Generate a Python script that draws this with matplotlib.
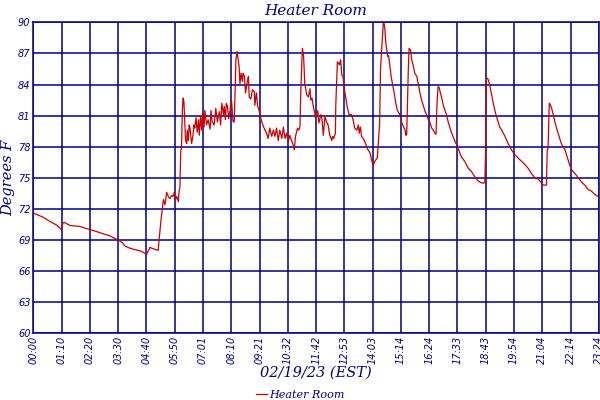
import matplotlib
matplotlib.use("Agg")
import matplotlib.pyplot as plt
import numpy as np

# minutes since midnight, degrees F
minutes = [0, 24, 41, 59, 70, 73, 77, 91, 116, 124, 141, 158, 173, 190, 205, 211, 222, 228, 240,
           269, 281, 290, 294, 310, 313, 317, 320, 323, 327, 331, 335, 339, 344, 347, 350, 353, 356, 360, 362, 364,
           366, 368, 370, 372, 374, 376, 378, 381, 382, 385, 387, 389, 393, 396, 399, 401, 404, 407, 410, 412,
           415, 418, 420, 424, 426, 430, 434, 439, 441, 444, 449, 453, 457, 462, 465, 468, 472, 474, 477, 479,
           482, 485, 488, 492, 496, 499, 503, 506, 511, 513, 516, 519, 521, 524, 527, 530, 534, 536, 540, 544,
           549, 550, 554, 557, 560, 565, 568, 573, 579, 583, 587, 592, 596, 600, 604, 608, 612, 617, 621, 625,
           629, 633, 637, 641, 645, 648, 651, 656, 659, 662, 664, 668, 671, 674, 679, 683, 687, 689, 692, 695,
           699, 701, 706, 709, 714, 717, 720, 724, 728, 732, 736, 741, 743, 746, 750, 751, 755, 760, 763, 766,
           769, 771, 776, 779, 784, 790, 794, 798, 803, 807, 809, 812, 815, 819, 823, 828, 831, 836, 840, 844,
           848, 854, 856, 860, 862, 865, 869, 871, 873, 875, 877, 880, 882, 885, 888, 892, 896, 900, 904, 910,
           914, 923, 925, 927, 928, 931, 933, 937, 939, 943, 947, 952, 956, 960, 964, 968, 972, 976, 980, 985,
           989, 993, 997, 1000, 1001, 1003, 1005, 1008, 1010, 1014, 1018, 1022, 1026, 1030, 1034, 1038, 1042, 1047, 1051, 1055,
           1059, 1063, 1071, 1080, 1088, 1096, 1104, 1113, 1121, 1123, 1124, 1125, 1128, 1130, 1134, 1138, 1142, 1146, 1150, 1154,
           1158, 1163, 1167, 1171, 1179, 1187, 1196, 1204, 1212, 1220, 1229, 1237, 1245, 1253, 1262, 1266, 1274, 1276, 1278, 1281,
           1283, 1287, 1291, 1295, 1299, 1303, 1307, 1311, 1315, 1320, 1324, 1328, 1332, 1336, 1345, 1353, 1361, 1369, 1377, 1386,
           1394, 1402, 1404]
temps = [71.6, 71.2, 70.8, 70.4, 70.0, 70.6, 70.7, 70.4, 70.3, 70.2, 70.0, 69.8, 69.6, 69.4, 69.1, 69.0, 68.7, 68.4, 68.2,
         67.9, 67.6, 68.3, 68.2, 68.0, 69.3, 70.9, 71.9, 72.9, 72.4, 73.6, 73.2, 73.0, 73.3, 73.2, 73.6, 72.9, 73.2, 72.7, 73.7, 74.1,
         77.5, 78.0, 81.5, 82.7, 82.3, 80.4, 78.6, 78.3, 79.6, 78.6, 80.1, 79.8, 78.3, 79.0, 80.1, 79.8, 80.8, 79.4, 80.6, 79.1,
         80.9, 79.6, 81.3, 79.9, 81.5, 80.1, 80.6, 79.7, 81.5, 80.4, 80.1, 81.7, 80.4, 81.4, 80.1, 82.2, 81.1, 81.9, 80.6, 82.2,
         81.9, 80.7, 81.4, 82.5, 80.4, 80.4, 86.4, 87.2, 85.7, 84.1, 85.1, 84.3, 85.1, 84.8, 83.2, 84.0, 84.8, 82.8, 82.6, 83.5,
         83.3, 82.0, 83.2, 81.9, 81.6, 80.7, 80.3, 79.8, 79.3, 78.8, 79.8, 79.0, 79.6, 79.0, 79.8, 78.6, 79.6, 78.8, 79.9, 78.8,
         79.3, 78.5, 79.1, 78.6, 78.2, 77.7, 79.0, 79.8, 79.6, 79.9, 83.2, 87.5, 86.8, 84.1, 83.0, 82.8, 83.6, 82.5, 82.7, 81.9,
         81.2, 80.7, 81.5, 80.3, 81.1, 80.6, 79.1, 80.9, 80.4, 80.1, 79.1, 78.6, 79.0, 78.8, 79.3, 82.0, 86.2, 85.9, 86.4, 84.9,
         84.8, 83.8, 82.7, 81.9, 81.1, 81.1, 80.6, 79.8, 79.6, 80.1, 79.3, 79.9, 79.0, 78.8, 78.5, 78.0, 77.7, 77.4, 76.7, 76.2,
         76.6, 76.9, 78.0, 80.4, 85.4, 87.5, 89.9, 89.9, 89.3, 88.1, 87.5, 86.7, 86.8, 85.9, 84.9, 84.0, 83.2, 82.2, 81.5, 81.1,
         80.4, 79.6, 79.1, 79.2, 80.6, 85.4, 87.5, 87.3, 86.5, 85.9, 85.1, 84.8, 84.0, 83.2, 82.5, 82.0, 81.5, 81.1, 80.7, 80.3,
         79.8, 79.6, 79.3, 79.2, 80.7, 82.7, 83.8, 83.7, 83.3, 82.7, 82.0, 81.5, 81.1, 80.4, 79.9, 79.4, 79.0, 78.5, 78.2, 77.8,
         77.4, 77.0, 76.6, 75.9, 75.6, 75.1, 74.7, 74.5, 74.5, 77.7, 83.2, 84.6, 84.6, 84.4, 83.8, 83.0, 82.2, 81.5, 80.9, 80.4,
         79.9, 79.6, 79.3, 79.0, 78.3, 77.7, 77.2, 76.9, 76.6, 76.3, 75.9, 75.4, 75.0, 74.9, 74.5, 74.3, 74.3, 77.7, 77.8, 82.2,
         82.1, 81.7, 81.1, 80.4, 79.8, 79.3, 78.8, 78.3, 78.0, 77.7, 77.2, 76.7, 76.2, 75.8, 75.4, 75.0, 74.6, 74.3, 73.9, 73.7,
         73.4, 73.2, 73.1]

tick_labels = ["00:00", "01:10", "02:20", "03:30", "04:40", "05:50", "07:01", "08:10", "09:21", "10:32",
               "11:42", "12:53", "14:03", "15:14", "16:24", "17:33", "18:43", "19:54", "21:04", "22:14", "23:24"]
y_ticks = [60, 63, 66, 69, 72, 75, 78, 81, 84, 87, 90]

navy = "#000080"
red = "#CC0000"

fig = plt.figure(figsize=(6, 4), dpi=100)
ax = fig.add_axes([0.0555, 0.167, 0.9425, 0.777])

ax.plot(minutes, temps, color=red, lw=0.9, label="Heater Room")

end = 1404
ax.set_xlim(0, end)
ax.set_ylim(60, 90)
ax.set_xticks(np.linspace(0, end, len(tick_labels)))
ax.set_xticklabels(tick_labels, rotation=90, fontstyle="italic", fontsize=7, color=navy, va="top")
ax.set_yticks(y_ticks)
ax.set_yticklabels([str(v) for v in y_ticks], fontstyle="italic", fontsize=7, color=navy)
ax.tick_params(length=0, pad=2)
ax.grid(True, color=navy, lw=1.1)
ax.set_axisbelow(True)
for s in ax.spines.values():
    s.set_color(navy)
    s.set_linewidth(1.1)

ax.set_title("Heater Room", fontfamily="DejaVu Serif", fontstyle="italic", fontsize=11, color=navy, pad=5)
ax.set_ylabel("Degrees F", fontfamily="DejaVu Serif", fontstyle="italic", fontsize=10.5, color=navy, labelpad=2)
ax.set_xlabel("02/19/23 (EST)", fontfamily="DejaVu Serif", fontstyle="italic", fontsize=10.5, color=navy, labelpad=1)

leg = fig.legend(loc="lower center", bbox_to_anchor=(0.5, -0.025), frameon=False, handlelength=1.0,
                 handletextpad=0.2, prop={"family": "DejaVu Serif", "style": "italic", "size": 8})
for t in leg.get_texts():
    t.set_color(navy)

fig.savefig("out.png", dpi=100)
